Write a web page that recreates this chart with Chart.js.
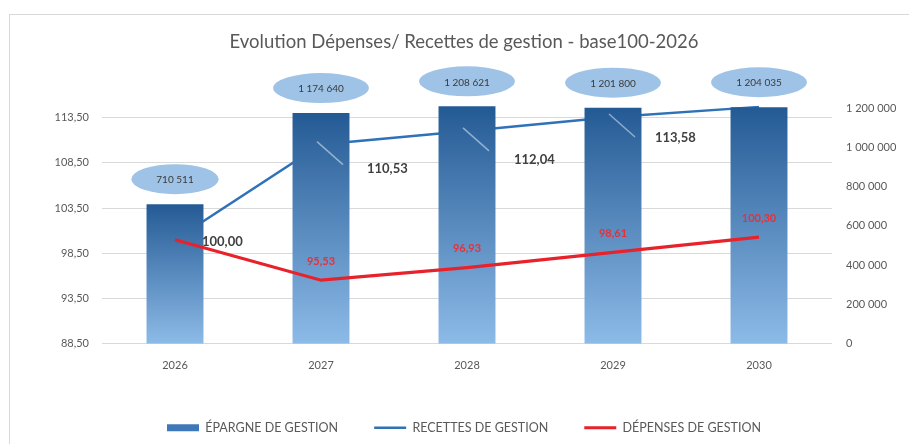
<!DOCTYPE html>
<html>
<head>
<meta charset="utf-8">
<script src="https://cdn.jsdelivr.net/npm/chart.js@4.4.1/dist/chart.umd.min.js"></script>
<style>
    html, body { margin: 0; padding: 0; background: #fff; }
    #wrap { position: relative; width: 909px; height: 444px; overflow: hidden; }
    #cadre { position: absolute; left: 9px; top: 14px; width: 1000px; height: 1000px; border: 1px solid #d9d9d9; box-sizing: border-box; }
    canvas { position: absolute; left: 0; top: 0; }
</style>
</head>
<body>
<div id="wrap">
    <div id="cadre"></div>
    <canvas id="evolution" width="909" height="444"></canvas>
</div>
<script>
// données
const annees = ['2026', '2027', '2028', '2029', '2030'];
const epargne = [710511, 1174640, 1208621, 1201800, 1204035];
const recettes = [100.00, 110.53, 112.04, 113.58, 114.70];
const depenses = [100.00, 95.53, 96.93, 98.61, 100.30];
const ticksIndice = [88.5, 93.5, 98.5, 103.5, 108.5, 113.5];
const ticksMontant = [0, 200000, 400000, 600000, 800000, 1000000, 1200000];

// décalage des étiquettes des recettes (null = pas d'étiquette)
const decalRecettes = [[27, 2], [46, 24], [47, 29], [42, 21], null];

const police = 'Lato';
const gris = '#595959';

function fmtMontant(v) {
    return Math.round(v).toString().replace(/\B(?=(\d{3})+(?!\d))/g, ' ');
}
function fmtIndice(v) {
    return Number(v).toFixed(2).replace('.', ',');
}

// dégradé vertical propre à chaque barre
function degradeBarre(c) {
    const chart = c.chart;
    const area = chart.chartArea;
    if (!area || c.type !== 'data') return '#3f78b8';
    const yTop = chart.scales.y1.getPixelForValue(c.raw);
    const g = chart.ctx.createLinearGradient(0, yTop, 0, area.bottom);
    g.addColorStop(0, '#245a94');
    g.addColorStop(1, '#8dbbe8');
    return g;
}

const etiquettes = {
    id: 'etiquettes',
    // étiquettes des recettes : dessinées avant les barres
    beforeDatasetDraw(chart, args) {
        if (args.index !== 0) return;
        const ctx = chart.ctx;
        const meta = chart.getDatasetMeta(1);
        ctx.save();
        ctx.font = 'bold 13px ' + police;
        ctx.fillStyle = '#404040';
        ctx.textAlign = 'left';
        ctx.textBaseline = 'middle';
        meta.data.forEach((pt, i) => {
            const d = decalRecettes[i];
            if (!d) return;
            ctx.fillText(fmtIndice(recettes[i]), pt.x + d[0], pt.y + d[1]);
        });
        ctx.restore();
    },
    afterDatasetsDraw(chart) {
        const ctx = chart.ctx;
        ctx.save();

        // traits de rappel
        const metaR = chart.getDatasetMeta(1);
        ctx.strokeStyle = 'rgba(225,235,248,0.55)';
        ctx.lineWidth = 1.5;
        metaR.data.forEach((pt, i) => {
            if (i === 0 || !decalRecettes[i]) return;
            ctx.beginPath();
            ctx.moveTo(pt.x - 4, pt.y - 3);
            ctx.lineTo(pt.x + 22, pt.y + 20);
            ctx.stroke();
        });

        // étiquettes des dépenses
        const metaD = chart.getDatasetMeta(2);
        ctx.font = 'bold 11px ' + police;
        ctx.fillStyle = '#e8303a';
        ctx.textAlign = 'center';
        ctx.textBaseline = 'middle';
        metaD.data.forEach((pt, i) => {
            if (i === 0) return;
            ctx.fillText(fmtIndice(depenses[i]), pt.x, pt.y - 19);
        });

        // bulles au-dessus des barres
        const metaB = chart.getDatasetMeta(0);
        ctx.font = '10px ' + police;
        metaB.data.forEach((bar, i) => {
            const txt = fmtMontant(epargne[i]);
            const w = ctx.measureText(txt).width;
            const cx = bar.x, cy = bar.y - 25;
            ctx.beginPath();
            ctx.ellipse(cx, cy, w / 2 + 25, 15, 0, 0, Math.PI * 2);
            ctx.fillStyle = '#9fc3e7';
            ctx.fill();
            ctx.fillStyle = '#3a3a3a';
            ctx.fillText(txt, cx, cy + 1);
        });
        ctx.restore();
    }
};

const defautLegende = Chart.defaults.plugins.legend.labels.generateLabels;

const graphique = new Chart(document.getElementById('evolution'), {
    data: {
        labels: annees,
        datasets: [
            {
                type: 'bar',
                label: 'ÉPARGNE DE GESTION',
                data: epargne,
                yAxisID: 'y1',
                order: 2,
                backgroundColor: degradeBarre,
                borderWidth: 0,
                barPercentage: 0.39,
                categoryPercentage: 1,
                pointStyle: 'rect'
            },
            {
                type: 'line',
                label: 'RECETTES DE GESTION',
                data: recettes,
                yAxisID: 'y',
                order: 3,
                borderColor: '#2f72b8',
                backgroundColor: '#2f72b8',
                borderWidth: 2.5,
                pointRadius: 0,
                pointStyle: 'line',
                tension: 0
            },
            {
                type: 'line',
                label: 'DÉPENSES DE GESTION',
                data: depenses,
                yAxisID: 'y',
                order: 1,
                borderColor: '#e8222b',
                backgroundColor: '#e8222b',
                borderWidth: 3.2,
                pointRadius: 0,
                pointStyle: 'line',
                tension: 0
            }
        ]
    },
    options: {
        responsive: false,
        animation: false,
        layout: { padding: { left: 19, right: 0, top: 0, bottom: 0 } },
        plugins: {
            title: {
                display: true,
                text: 'Evolution Dépenses/ Recettes de gestion - base100-2026',
                color: gris,
                font: { family: police, size: 18.5, weight: 'normal' },
                padding: { top: 31, bottom: 52.5 }
            },
            legend: {
                position: 'bottom',
                labels: {
                    usePointStyle: true,
                    pointStyleWidth: 32,
                    boxHeight: 7,
                    padding: 36,
                    color: gris,
                    font: { family: police, size: 12.5 },
                    sort: (a, b) => a.datasetIndex - b.datasetIndex,
                    generateLabels: chart => defautLegende(chart).map(item => {
                        if (item.datasetIndex === 0) item.fillStyle = '#3f78b8';
                        return item;
                    })
                }
            },
            tooltip: { enabled: false }
        },
        scales: {
            x: {
                grid: { display: false, drawTicks: false },
                border: { display: false },
                ticks: { color: gris, font: { family: police, size: 11 }, padding: 15 },
                afterFit: s => { s.height = 41.75; }
            },
            y: {
                position: 'left',
                min: 88.5,
                max: 114.83,
                afterBuildTicks: s => { s.ticks = ticksIndice.map(v => ({ value: v })); },
                grid: { color: '#d9d9d9', drawTicks: false },
                border: { display: false },
                ticks: { color: gris, font: { family: police, size: 11 }, padding: 13, callback: v => fmtIndice(v) },
                afterFit: s => { s.width = 83; }
            },
            y1: {
                position: 'right',
                min: 0,
                max: 1212000,
                afterBuildTicks: s => { s.ticks = ticksMontant.map(v => ({ value: v })); },
                grid: { display: false, drawTicks: false },
                border: { display: false },
                ticks: { color: gris, font: { family: police, size: 11 }, padding: 14, callback: v => fmtMontant(v) },
                afterFit: s => { s.width = 77; }
            }
        }
    },
    plugins: [etiquettes]
});

// hauteur fixe de la légende pour garder la zone de tracé en place
graphique.legend.afterFit = function () { this.height = 63.25; };
graphique.update();
</script>
</body>
</html>
